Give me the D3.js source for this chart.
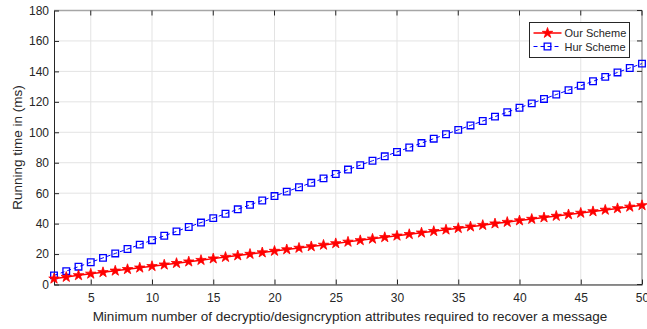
<!DOCTYPE html>
<html>
<head>
<meta charset="utf-8">
<script src="https://cdn.jsdelivr.net/npm/d3@7"></script>
<style>
	body { margin: 0; background: #fff; }
	svg { display: block; font-family: "Liberation Sans", Arial, sans-serif; }
</style>
</head>
<body>
<div id="chart"></div>
<script>
// data
const attrs = [2, 3, 4, 5, 6, 7, 8, 9, 10, 11, 12, 13, 14, 15, 16, 17, 18, 19, 20, 21, 22, 23, 24, 25, 26,
	27, 28, 29, 30, 31, 32, 33, 34, 35, 36, 37, 38, 39, 40, 41, 42, 43, 44, 45, 46, 47, 48, 49, 50];
const ourScheme = [3.8, 4.9, 6, 7, 8, 9, 10, 11, 12, 13, 14, 15, 16, 17, 18, 19, 20, 21, 22, 23, 24, 25, 26, 27, 28,
	29, 30, 31, 32, 33, 34, 35, 36, 37, 38, 39, 40, 41, 42, 43, 44, 45, 46, 47, 48, 49, 50, 51, 52];
const hurScheme = [6, 8.8, 11.7, 14.6, 17.5, 20.4, 23.3, 26.2, 29.1, 32, 34.9, 37.8, 40.7, 43.6, 46.5, 49.4, 52.3,
	55.2, 58.1, 61, 63.9, 66.8, 69.7, 72.6, 75.5, 78.4, 81.3, 84.2, 87.1, 90, 92.9, 95.8, 98.7, 101.6, 104.5,
	107.4, 110.3, 113.2, 116.1, 119, 121.9, 124.8, 127.7, 130.6, 133.5, 136.4, 139.3, 142.2, 145.1];
const xTicks = [5, 10, 15, 20, 25, 30, 35, 40, 45, 50];
const yTicks = [0, 20, 40, 60, 80, 100, 120, 140, 160, 180];
const seriesNames = ["Our Scheme", "Hur Scheme"];

const width = 647;
const height = 329;
const margin = { left: 54, right: 5, top: 10.5, bottom: 44.5 };
const plotW = width - margin.left - margin.right;
const plotH = height - margin.top - margin.bottom;

const svg = d3.select("#chart")
	.append("svg")
	.attr("width", width)
	.attr("height", height);

const x = d3.scaleLinear().domain([2, 50]).range([margin.left, margin.left + plotW]);
const y = d3.scaleLinear().domain([0, 180]).range([margin.top + plotH, margin.top]);

// grid
const grid = svg.append("g").attr("stroke", "#e3e3e3").attr("stroke-width", 1);
grid.selectAll("line.gx")
	.data(xTicks)
	.enter().append("line")
	.attr("x1", d => x(d)).attr("x2", d => x(d))
	.attr("y1", y(0)).attr("y2", y(180));
grid.selectAll("line.gy")
	.data(yTicks)
	.enter().append("line")
	.attr("x1", x(2)).attr("x2", x(50))
	.attr("y1", d => y(d)).attr("y2", d => y(d));

// box: top / right lighter
svg.append("line")
	.attr("x1", x(2)).attr("x2", x(50)).attr("y1", y(180)).attr("y2", y(180))
	.attr("stroke", "#a6a6a6").attr("stroke-width", 1.5);
svg.append("line")
	.attr("x1", x(50)).attr("x2", x(50)).attr("y1", y(0)).attr("y2", y(180))
	.attr("stroke", "#a6a6a6").attr("stroke-width", 1.5);

// mirrored ticks on top and right
const tickLen = 5;
const mirror = svg.append("g").attr("stroke", "#262626").attr("stroke-width", 1);
mirror.selectAll("line.tx")
	.data(xTicks)
	.enter().append("line")
	.attr("x1", d => x(d)).attr("x2", d => x(d))
	.attr("y1", y(180)).attr("y2", y(180) + tickLen);
mirror.selectAll("line.ty")
	.data(yTicks)
	.enter().append("line")
	.attr("x1", x(50)).attr("x2", x(50) - tickLen)
	.attr("y1", d => y(d)).attr("y2", d => y(d));

// axes
const xAxis = svg.append("g")
	.attr("transform", `translate(0, ${y(0)})`)
	.call(d3.axisBottom(x).tickValues(xTicks).tickSizeInner(-tickLen).tickSizeOuter(0).tickPadding(9));
const yAxis = svg.append("g")
	.attr("transform", `translate(${x(2)}, 0)`)
	.call(d3.axisLeft(y).tickValues(yTicks).tickSizeInner(-tickLen).tickSizeOuter(0).tickPadding(5));
for (const ax of [xAxis, yAxis]) {
	ax.select(".domain").attr("stroke", "#262626");
	ax.selectAll(".tick line").attr("stroke", "#262626");
	ax.selectAll(".tick text")
		.attr("fill", "#262626")
		.style("font-size", "12px")
		.style("font-family", "Liberation Sans, Arial, sans-serif");
}

// axis labels
svg.append("text")
	.attr("x", (x(2) + x(50)) / 2 + 2)
	.attr("y", 321)
	.attr("text-anchor", "middle")
	.attr("fill", "#262626")
	.style("font-size", "13.5px")
	.text("Minimum number of decryptio/designcryption attributes required to recover a message");
svg.append("text")
	.attr("transform", `translate(22, ${(y(0) + y(180)) / 2}) rotate(-90)`)
	.attr("text-anchor", "middle")
	.attr("fill", "#262626")
	.style("font-size", "13.5px")
	.text("Running time in (ms)");

// series
const star = d3.symbol().type(d3.symbolStar).size(34);
const square = d3.symbol().type(d3.symbolSquare).size(44);

const hurPts = attrs.map((a, i) => [a, hurScheme[i]]);
const ourPts = attrs.map((a, i) => [a, ourScheme[i]]);
const line = d3.line().x(d => x(d[0])).y(d => y(d[1]));

svg.append("path")
	.datum(hurPts)
	.attr("d", line)
	.attr("fill", "none")
	.attr("stroke", "#0000ff")
	.attr("stroke-width", 1)
	.attr("stroke-dasharray", "4,3");
svg.append("g")
	.selectAll("path")
	.data(hurPts)
	.enter().append("path")
	.attr("d", square)
	.attr("transform", d => `translate(${x(d[0])}, ${y(d[1])})`)
	.attr("fill", "none")
	.attr("stroke", "#0000ff")
	.attr("stroke-width", 1.3);

svg.append("path")
	.datum(ourPts)
	.attr("d", line)
	.attr("fill", "none")
	.attr("stroke", "#ff0000")
	.attr("stroke-width", 1.5);
svg.append("g")
	.selectAll("path")
	.data(ourPts)
	.enter().append("path")
	.attr("d", star)
	.attr("transform", d => `translate(${x(d[0])}, ${y(d[1])})`)
	.attr("fill", "#ff0000")
	.attr("stroke", "#ff0000")
	.attr("stroke-width", 0.8);

// legend
const legend = svg.append("g").attr("transform", "translate(529.5, 22.5)");
legend.append("rect")
	.attr("width", 100)
	.attr("height", 35)
	.attr("fill", "#fff")
	.attr("stroke", "#262626")
	.attr("stroke-width", 1);
const rows = [
	{ name: seriesNames[0], color: "#ff0000", dash: null, sym: star, fill: "#ff0000" },
	{ name: seriesNames[1], color: "#0000ff", dash: "4,3", sym: square, fill: "none" },
];
rows.forEach((r, i) => {
	const ry = 10.5 + i * 13.5;
	legend.append("line")
		.attr("x1", 4).attr("x2", 32).attr("y1", ry).attr("y2", ry)
		.attr("stroke", r.color)
		.attr("stroke-width", i === 0 ? 1.5 : 1)
		.attr("stroke-dasharray", r.dash);
	legend.append("path")
		.attr("d", r.sym)
		.attr("transform", `translate(18, ${ry})`)
		.attr("fill", r.fill)
		.attr("stroke", r.color)
		.attr("stroke-width", i === 0 ? 0.8 : 1.3);
	legend.append("text")
		.attr("x", 35)
		.attr("y", ry + 4)
		.attr("fill", "#262626")
		.style("font-size", "11px")
		.text(r.name);
});
</script>
</body>
</html>
